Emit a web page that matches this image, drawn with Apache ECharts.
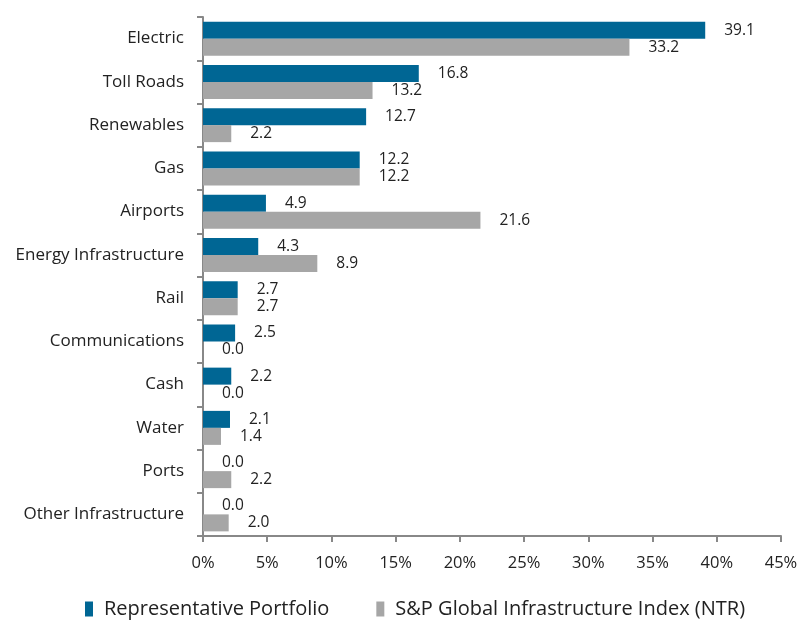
<!DOCTYPE html>
<html><head><meta charset="utf-8">
<script src="https://cdn.jsdelivr.net/npm/echarts@6/dist/echarts.min.js"></script>
<style>html,body{margin:0;padding:0;background:#fff}#c{width:802px;height:624px}</style>
</head><body><div id="c"></div>
<script>
const categories = ["Electric","Toll Roads","Renewables","Gas","Airports","Energy Infrastructure","Rail","Communications","Cash","Water","Ports","Other Infrastructure"];
const portfolio = [39.1,16.8,12.7,12.2,4.9,4.3,2.7,2.5,2.2,2.1,0.0,0.0];
const indexNTR = [33.2,13.2,2.2,12.2,21.6,8.9,2.7,0.0,0.0,1.4,2.2,2.0];
const seriesNames = ["Representative Portfolio","S&P Global Infrastructure Index (NTR)"];
const font = "Open Sans";
const chart = echarts.init(document.getElementById('c'));
const lbl = {show:true, position:'right', distance:19, color:'#222', fontFamily:font, fontSize:15.5, formatter:p=>p.value.toFixed(1)};
chart.setOption({
  animation:false,
  textStyle:{fontFamily:font},
  grid:{left:203,right:21,top:17,bottom:88,containLabel:false},
  legend:{bottom:0,left:80,itemWidth:8,itemHeight:15,itemGap:47,icon:'rect',
    textStyle:{fontFamily:font,fontSize:20,color:'#222',padding:[0,0,0,6]},data:seriesNames},
  xAxis:{type:'value',min:0,max:45,interval:5,
    axisLine:{show:true,lineStyle:{color:'#888',width:2}},
    axisTick:{show:true,length:6,lineStyle:{color:'#888',width:2}},
    splitLine:{show:false},
    axisLabel:{formatter:'{value}%',color:'#222',fontSize:16.5,fontFamily:font,margin:19}},
  yAxis:{type:'category',data:categories,inverse:true,
    axisLine:{show:true,lineStyle:{color:'#888',width:2}},
    axisTick:{show:true,length:6,lineStyle:{color:'#888',width:2}},
    axisLabel:{color:'#222',fontSize:17,fontFamily:font,margin:19}},
  series:[
    {name:seriesNames[0],type:'bar',data:portfolio,barWidth:17,barGap:'0%',itemStyle:{color:'#006694'},label:lbl},
    {name:seriesNames[1],type:'bar',data:indexNTR,barWidth:17,barGap:'0%',itemStyle:{color:'#A6A6A6'},label:lbl}
  ]
});
</script></body></html>
